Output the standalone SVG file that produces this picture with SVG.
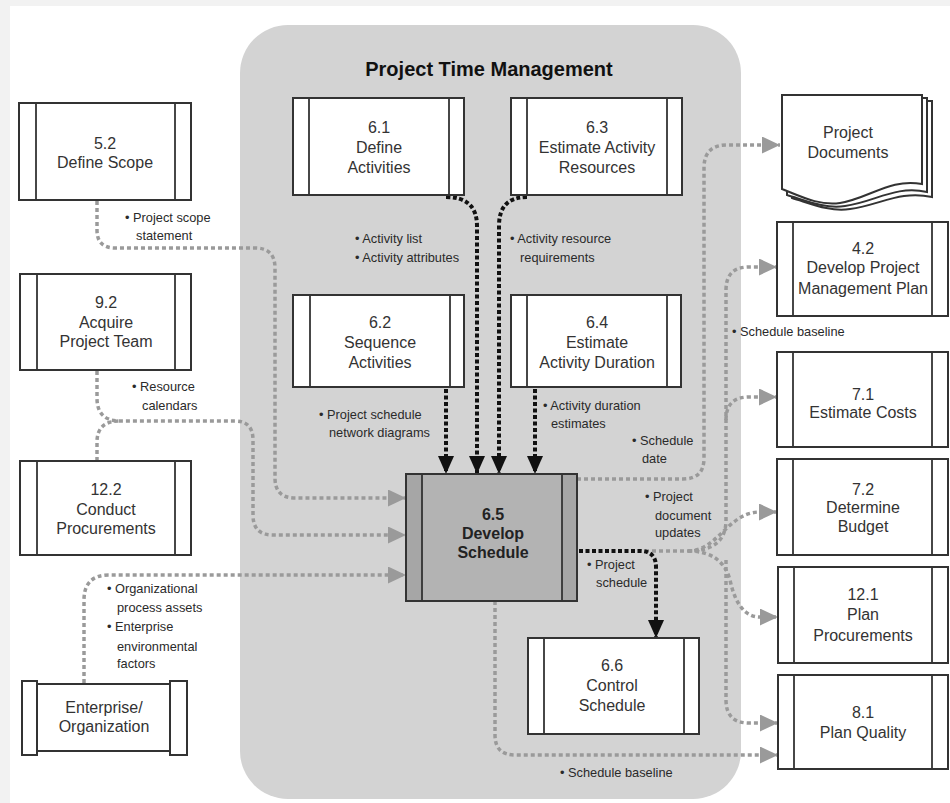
<svg xmlns="http://www.w3.org/2000/svg" width="950" height="803" viewBox="0 0 950 803">
  <style>
    .box { fill: #ffffff; stroke: #333333; stroke-width: 2; }
    .bar { stroke: #333333; stroke-width: 1.8; }
    .hot { fill: #b3b3b3; }
    .hotbar { fill: #a6a6a6; }
    .t { font-family: "Liberation Sans", Arial, sans-serif; font-size: 16px; fill: #333333; text-anchor: middle; }
    .tb { font-family: "Liberation Sans", Arial, sans-serif; font-size: 16px; font-weight: bold; fill: #222222; text-anchor: middle; }
    .title { font-family: "Liberation Sans", Arial, sans-serif; font-size: 20px; font-weight: bold; fill: #111111; text-anchor: middle; }
    .lbl { font-family: "Liberation Sans", Arial, sans-serif; font-size: 12.8px; fill: #2a2a2a; }
    .gray { fill: none; stroke: #9a9a9a; stroke-width: 3.5; stroke-dasharray: 4 3; }
    .blk { fill: none; stroke: #111111; stroke-width: 4; stroke-dasharray: 4 2.5; }
  </style>
  <defs>
    <marker id="ag" markerUnits="userSpaceOnUse" markerWidth="19" markerHeight="18" refX="18" refY="8.5" orient="auto">
      <path d="M0,0 L18,8.5 L0,17 z" fill="#9a9a9a"/>
    </marker>
    <marker id="ab" markerUnits="userSpaceOnUse" markerWidth="20" markerHeight="18" refX="18" refY="8" orient="auto">
      <path d="M0,0 L18,8 L0,16 z" fill="#111111"/>
    </marker>
  </defs>

  <!-- page -->
  <rect x="0" y="0" width="950" height="803" fill="#f2f2f2"/>
  <rect x="10" y="6" width="940" height="797" fill="#ffffff"/>

  <!-- Project Time Management area -->
  <g id="ptm">
    <rect x="240" y="25" width="501" height="774" rx="48" ry="48" fill="#d3d3d3"/>
    <text class="title" x="489" y="76">Project Time Management</text>
  </g>

  <!-- connectors -->
  <g id="connectors">
    <!-- inputs into 6.5 -->
    <path class="gray" d="M97 201 V230 Q97 248 115 248 H255 Q275 248 275 268 V478 Q275 498 295 498 H406" marker-end="url(#ag)"/>
    <path class="gray" d="M97 371 V398 Q97 421 120 421 H235 Q253 421 253 440 V515 Q253 535 273 535 H406" marker-end="url(#ag)"/>
    <path class="gray" d="M97 461 V442 Q97 421 120 421"/>
    <path class="gray" d="M84 683 V600 Q84 575 109 575 H406" marker-end="url(#ag)"/>

    <!-- outputs from 6.5 -->
    <path class="gray" d="M577 479 H683 Q704 479 704 458 V168 Q704 145 727 145 H780" marker-end="url(#ag)"/>
    <path class="gray" d="M645 551 H688 Q726 551 726 520 V290 Q726 267 749 267 H777" marker-end="url(#ag)"/>
    <path class="gray" d="M726 420 Q726 397 749 397 H777" marker-end="url(#ag)"/>
    <path class="gray" d="M688 551 C718 551 728 512 760 512 H777" marker-end="url(#ag)"/>
    <path class="gray" d="M688 551 Q722 551 730 580 Q738 617 760 617 H778" marker-end="url(#ag)"/>
    <path class="gray" d="M726 560 V700 Q726 723 749 723 H778" marker-end="url(#ag)"/>
    <path class="gray" d="M495 601 V735 Q495 755 515 755 H778" marker-end="url(#ag)"/>

    <!-- schedule inputs (black) -->
    <path class="blk" d="M446 389 V474" marker-end="url(#ab)"/>
    <path class="blk" d="M446 197 Q477 197 477 226 V474" marker-end="url(#ab)"/>
    <path class="blk" d="M527 197 Q499 197 499 226 V474" marker-end="url(#ab)"/>
    <path class="blk" d="M535 389 V474" marker-end="url(#ab)"/>
    <path class="blk" d="M579 551 H640 Q656 551 656 567 V638" marker-end="url(#ab)"/>
  </g>

  <!-- connector labels -->
  <g id="labels">
    <text class="lbl" x="125" y="222">• Project scope</text>
    <text class="lbl" x="136" y="240">statement</text>
    <text class="lbl" x="355" y="243">• Activity list</text>
    <text class="lbl" x="355" y="262">• Activity attributes</text>
    <text class="lbl" x="510" y="243">• Activity resource</text>
    <text class="lbl" x="520" y="262">requirements</text>
    <text class="lbl" x="132" y="391">• Resource</text>
    <text class="lbl" x="142" y="410">calendars</text>
    <text class="lbl" x="319" y="419">• Project schedule</text>
    <text class="lbl" x="329" y="437">network diagrams</text>
    <text class="lbl" x="543" y="410">• Activity duration</text>
    <text class="lbl" x="551" y="428">estimates</text>
    <text class="lbl" x="632" y="445">• Schedule</text>
    <text class="lbl" x="642" y="463">date</text>
    <text class="lbl" x="645" y="501">• Project</text>
    <text class="lbl" x="655" y="520">document</text>
    <text class="lbl" x="655" y="537">updates</text>
    <text class="lbl" x="587" y="569">• Project</text>
    <text class="lbl" x="596" y="587">schedule</text>
    <text class="lbl" x="732" y="336">• Schedule baseline</text>
    <text class="lbl" x="560" y="777">• Schedule baseline</text>
    <text class="lbl" x="107" y="593">• Organizational</text>
    <text class="lbl" x="117" y="612">process assets</text>
    <text class="lbl" x="107" y="631">• Enterprise</text>
    <text class="lbl" x="117" y="651">environmental</text>
    <text class="lbl" x="117" y="668">factors</text>
  </g>

  <!-- left column -->
  <g id="n5_2">
    <rect class="box" x="19" y="103" width="172" height="97"/>
    <line class="bar" x1="36" y1="103" x2="36" y2="200"/>
    <line class="bar" x1="175" y1="103" x2="175" y2="200"/>
    <text class="t" x="105" y="149">5.2</text>
    <text class="t" x="105" y="168">Define Scope</text>
  </g>
  <g id="n9_2">
    <rect class="box" x="20" y="274" width="171" height="96"/>
    <line class="bar" x1="37" y1="274" x2="37" y2="370"/>
    <line class="bar" x1="175" y1="274" x2="175" y2="370"/>
    <text class="t" x="106" y="308">9.2</text>
    <text class="t" x="106" y="328">Acquire</text>
    <text class="t" x="106" y="347">Project Team</text>
  </g>
  <g id="n12_2">
    <rect class="box" x="20" y="461" width="171" height="94"/>
    <line class="bar" x1="37" y1="461" x2="37" y2="555"/>
    <line class="bar" x1="175" y1="461" x2="175" y2="555"/>
    <text class="t" x="106" y="495">12.2</text>
    <text class="t" x="106" y="515">Conduct</text>
    <text class="t" x="106" y="534">Procurements</text>
  </g>
  <g id="enterprise">
    <rect class="box" x="37" y="684" width="133" height="67"/>
    <rect class="box" x="22" y="681" width="15" height="74"/>
    <rect class="box" x="170" y="681" width="17" height="74"/>
    <text class="t" x="104" y="713">Enterprise/</text>
    <text class="t" x="104" y="732">Organization</text>
  </g>

  <!-- time management processes -->
  <g id="n6_1">
    <rect class="box" x="293" y="98" width="171" height="97"/>
    <line class="bar" x1="309" y1="98" x2="309" y2="195"/>
    <line class="bar" x1="449" y1="98" x2="449" y2="195"/>
    <text class="t" x="379" y="133">6.1</text>
    <text class="t" x="379" y="153">Define</text>
    <text class="t" x="379" y="173">Activities</text>
  </g>
  <g id="n6_3">
    <rect class="box" x="511" y="98" width="171" height="97"/>
    <line class="bar" x1="527" y1="98" x2="527" y2="195"/>
    <line class="bar" x1="667" y1="98" x2="667" y2="195"/>
    <text class="t" x="597" y="133">6.3</text>
    <text class="t" x="597" y="153">Estimate Activity</text>
    <text class="t" x="597" y="173">Resources</text>
  </g>
  <g id="n6_2">
    <rect class="box" x="293" y="295" width="171" height="92"/>
    <line class="bar" x1="310" y1="295" x2="310" y2="387"/>
    <line class="bar" x1="450" y1="295" x2="450" y2="387"/>
    <text class="t" x="380" y="328">6.2</text>
    <text class="t" x="380" y="348">Sequence</text>
    <text class="t" x="380" y="368">Activities</text>
  </g>
  <g id="n6_4">
    <rect class="box" x="511" y="295" width="170" height="92"/>
    <line class="bar" x1="527" y1="295" x2="527" y2="387"/>
    <line class="bar" x1="667" y1="295" x2="667" y2="387"/>
    <text class="t" x="597" y="328">6.4</text>
    <text class="t" x="597" y="348">Estimate</text>
    <text class="t" x="597" y="368">Activity Duration</text>
  </g>
  <g id="n6_5">
    <rect class="hotbar" x="406" y="474" width="171" height="127"/>
    <rect class="hot" x="422" y="474" width="140" height="127"/>
    <rect x="406" y="474" width="171" height="127" fill="none" stroke="#333333" stroke-width="2"/>
    <line class="bar" x1="422" y1="474" x2="422" y2="601"/>
    <line class="bar" x1="562" y1="474" x2="562" y2="601"/>
    <text class="tb" x="493" y="520">6.5</text>
    <text class="tb" x="493" y="539">Develop</text>
    <text class="tb" x="493" y="558">Schedule</text>
  </g>
  <g id="n6_6">
    <rect class="box" x="528" y="638" width="171" height="96"/>
    <line class="bar" x1="544" y1="638" x2="544" y2="734"/>
    <line class="bar" x1="684" y1="638" x2="684" y2="734"/>
    <text class="t" x="612" y="671">6.6</text>
    <text class="t" x="612" y="691">Control</text>
    <text class="t" x="612" y="711">Schedule</text>
  </g>

  <!-- right column -->
  <g id="project_documents">
    <path class="box" d="M792 101 H932 V197 C900 190 880 205 850 209 C830 212 812 204 792 198 Z"/>
    <path class="box" d="M787 98 H927 V192 C895 185 875 202 845 206 C825 209 807 201 787 195 Z"/>
    <path class="box" d="M782 95 H922 V184 C890 178 870 198 840 203 C820 206 802 197 782 189 Z"/>
    <text class="t" x="848" y="138">Project</text>
    <text class="t" x="848" y="158">Documents</text>
  </g>
  <g id="n4_2">
    <rect class="box" x="777" y="222" width="171" height="94"/>
    <line class="bar" x1="793" y1="222" x2="793" y2="316"/>
    <line class="bar" x1="932" y1="222" x2="932" y2="316"/>
    <text class="t" x="863" y="254">4.2</text>
    <text class="t" x="863" y="273">Develop Project</text>
    <text class="t" x="863" y="294">Management Plan</text>
  </g>
  <g id="n7_1">
    <rect class="box" x="777" y="352" width="171" height="95"/>
    <line class="bar" x1="793" y1="352" x2="793" y2="447"/>
    <line class="bar" x1="932" y1="352" x2="932" y2="447"/>
    <text class="t" x="863" y="400">7.1</text>
    <text class="t" x="863" y="418">Estimate Costs</text>
  </g>
  <g id="n7_2">
    <rect class="box" x="777" y="459" width="171" height="96"/>
    <line class="bar" x1="793" y1="459" x2="793" y2="555"/>
    <line class="bar" x1="932" y1="459" x2="932" y2="555"/>
    <text class="t" x="863" y="495">7.2</text>
    <text class="t" x="863" y="513">Determine</text>
    <text class="t" x="863" y="532">Budget</text>
  </g>
  <g id="n12_1">
    <rect class="box" x="778" y="567" width="170" height="96"/>
    <line class="bar" x1="794" y1="567" x2="794" y2="663"/>
    <line class="bar" x1="932" y1="567" x2="932" y2="663"/>
    <text class="t" x="863" y="600">12.1</text>
    <text class="t" x="863" y="620">Plan</text>
    <text class="t" x="863" y="641">Procurements</text>
  </g>
  <g id="n8_1">
    <rect class="box" x="778" y="675" width="170" height="94"/>
    <line class="bar" x1="794" y1="675" x2="794" y2="769"/>
    <line class="bar" x1="932" y1="675" x2="932" y2="769"/>
    <text class="t" x="863" y="718">8.1</text>
    <text class="t" x="863" y="738">Plan Quality</text>
  </g>
</svg>
